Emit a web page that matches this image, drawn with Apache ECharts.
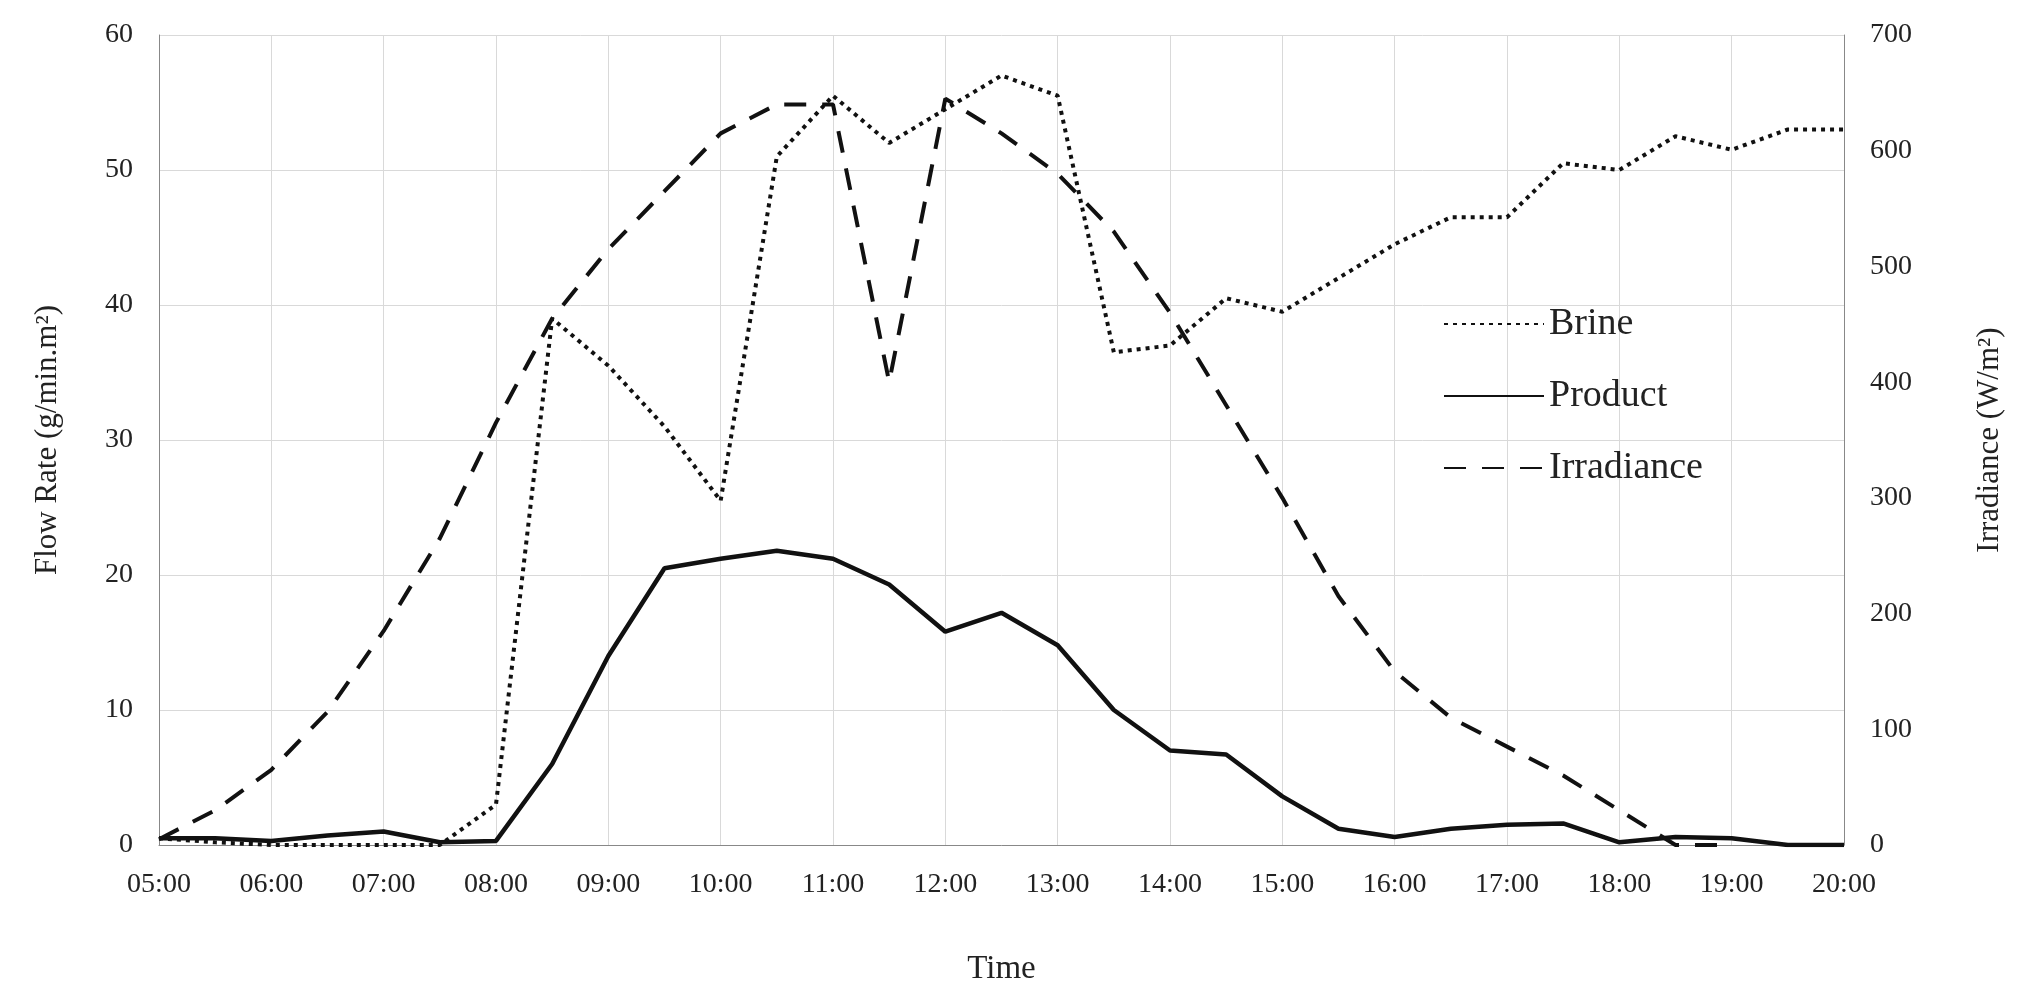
<!DOCTYPE html>
<html><head><meta charset="utf-8">
<script src="https://cdn.jsdelivr.net/npm/echarts@6/dist/echarts.min.js"></script>
<style>html,body{margin:0;padding:0;background:#fff}#c{width:2026px;height:997px}</style>
</head><body><div id="c"></div>
<script>
const times = ["05:00","05:30","06:00","06:30","07:00","07:30","08:00","08:30","09:00","09:30","10:00","10:30","11:00","11:30","12:00","12:30","13:00","13:30","14:00","14:30","15:00","15:30","16:00","16:30","17:00","17:30","18:00","18:30","19:00","19:30","20:00"];
const brine = [0.5,0.2,0,0,0,0,3,39,35.5,31,25.5,51,55.5,52,54.5,57,55.5,36.5,37,40.5,39.5,42,44.5,46.5,46.5,50.5,50,52.5,51.5,53,53];
const product = [0.5,0.5,0.3,0.7,1,0.2,0.3,6,14,20.5,21.2,21.8,21.2,19.3,15.8,17.2,14.8,10,7,6.7,3.6,1.2,0.6,1.2,1.5,1.6,0.2,0.6,0.5,0,0];
const irradiance = [5,30,65,115,185,265,365,455,515,565,615,640,640,400,645,615,580,530,460,380,300,215,150,110,85,60,30,0,0,null,null];
const F = "Liberation Serif";
const chart = echarts.init(document.getElementById('c'));
chart.setOption({
  animation:false,
  textStyle:{fontFamily:F,color:'#222'},
  grid:{left:159,right:182,top:35,bottom:152},
  legend:{orient:'vertical',left:1438,top:300,itemGap:34,itemWidth:100,itemHeight:16,
    itemStyle:{opacity:0},
    textStyle:{fontFamily:F,fontSize:38,color:'#222'},data:['Brine','Product','Irradiance']},
  xAxis:{type:'category',data:times,boundaryGap:false,name:'Time',nameLocation:'middle',nameGap:108,
    nameTextStyle:{fontFamily:F,fontSize:33,color:'#222'},
    axisLine:{lineStyle:{color:'#888'}},axisTick:{show:false},
    axisLabel:{interval:1,fontFamily:F,fontSize:28,color:'#222',margin:26},
    splitLine:{show:true,interval:1,lineStyle:{color:'#d9d9d9'}}},
  yAxis:[
    {type:'value',min:0,max:60,interval:10,name:'Flow Rate (g/min.m²)',nameLocation:'middle',nameGap:96,
     nameTextStyle:{fontFamily:F,fontSize:31,color:'#222'},
     axisLine:{show:true,lineStyle:{color:'#888'}},axisLabel:{fontFamily:F,fontSize:28,color:'#222',margin:26},
     splitLine:{lineStyle:{color:'#d9d9d9'}}},
    {type:'value',min:0,max:700,interval:100,name:'Irradiance (W/m²)',nameLocation:'middle',nameGap:130,
     nameRotate:90,
     nameTextStyle:{fontFamily:F,fontSize:31,color:'#222'},
     axisLine:{show:true,lineStyle:{color:'#888'}},axisLabel:{fontFamily:F,fontSize:28,color:'#222',margin:26},
     splitLine:{show:false}}
  ],
  series:[
    {name:'Brine',type:'line',data:brine,showSymbol:false,symbol:'none',lineStyle:{color:'#111',width:4,type:[4,5]},itemStyle:{color:'#111'}},
    {name:'Product',type:'line',data:product,showSymbol:false,symbol:'none',lineStyle:{color:'#111',width:4.5},itemStyle:{color:'#111'}},
    {name:'Irradiance',type:'line',yAxisIndex:1,data:irradiance,showSymbol:false,symbol:'none',lineStyle:{color:'#111',width:4,type:[22,16]},itemStyle:{color:'#111'}}
  ]
});
</script></body></html>
